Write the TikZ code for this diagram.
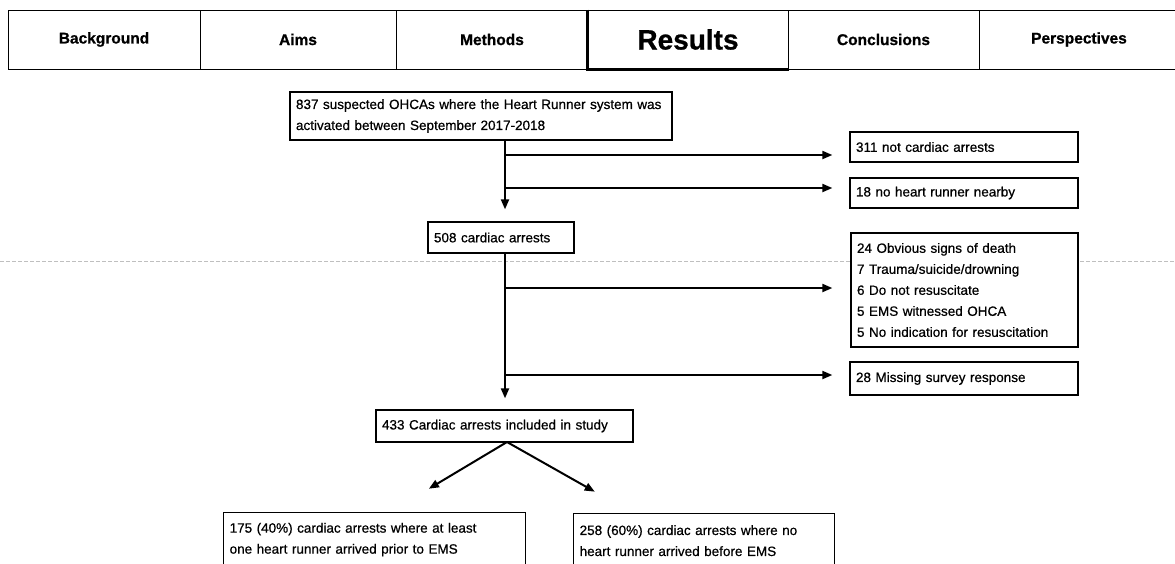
\documentclass[tikz,border=0pt]{standalone}
\usepackage{fontspec}
\setmainfont{Liberation Sans}
\newfontfamily\scanfont[FakeBold=0.6]{Liberation Sans}
\newfontfamily\scanbold[FakeBold=0.8]{Liberation Sans Bold}
\usetikzlibrary{arrows.meta}
\begin{document}
\begin{tikzpicture}[x=1pt,y=-1pt,
  hdr/.style={draw=black,line width=1pt,fill=white,inner sep=0pt,font=\fontsize{15.5}{17}\scanbold},
  box/.style={draw=black,line width=1.3pt,fill=white,inner sep=0pt,align=left,font=\fontsize{13.5}{21}\scanfont},
  arr/.style={line width=2pt,-{Triangle[length=10pt,width=8pt]}}]
\useasboundingbox (0,0) rectangle (1175,563);
\fill[white] (0,0) rectangle (1175,563);
% faint fold line
\draw[gray!50,line width=0.8pt,dash pattern=on 4pt off 2pt] (0,261) -- (1175,261);
% header
\node[hdr,minimum width=192pt,minimum height=59pt] (bg) at (104,39.5) {Background};
\node[hdr,minimum width=196pt,minimum height=59pt] (aims) at (298,39.5) {Aims};
\node[hdr,minimum width=192pt,minimum height=59pt] (meth) at (492,39.5) {Methods};
\node[hdr,minimum width=200pt,minimum height=59pt,font=\fontsize{28}{30}\scanbold] (res) at (688,39.5) {Results};
\node[hdr,minimum width=191pt,minimum height=59pt] (conc) at (883.5,39.5) {Conclusions};
\node[hdr,minimum width=200pt,minimum height=59pt] (persp) at (1079,39.5) {Perspectives};
\draw[line width=3pt] (res.north west) -- (res.south west) -- (res.south east);
% flow boxes
\node[box,minimum width=382pt,minimum height=48pt,text width=370pt] (main) at (481,116) {837 suspected OHCAs where the Heart Runner system was\\activated between September 2017-2018};
\node[box,minimum width=228pt,minimum height=30pt,text width=216pt] (b311) at (964,147) {311 not cardiac arrests};
\node[box,minimum width=228pt,minimum height=30pt,text width=216pt] (b18) at (964,193) {18 no heart runner nearby};
\node[box,minimum width=146pt,minimum height=31pt,text width=134pt] (n508) at (501,237.5) {508 cardiac arrests};
\node[box,minimum width=227pt,minimum height=114pt,text width=215pt] (big) at (964.5,290) {24 Obvious signs of death\\7 Trauma/suicide/drowning\\6 Do not resuscitate\\5 EMS witnessed OHCA\\5 No indication for resuscitation};
\node[box,minimum width=228pt,minimum height=33pt,text width=216pt] (b28) at (964,378.5) {28 Missing survey response};
\node[box,minimum width=257pt,minimum height=32pt,text width=245pt] (n433) at (504.5,426) {433 Cardiac arrests included in study};
\node[box,minimum width=302pt,minimum height=54pt,text width=290pt,anchor=north west] (n175) at (223,512) {175 (40\%) cardiac arrests where at least\\one heart runner arrived prior to EMS};
\node[box,minimum width=261pt,minimum height=54pt,text width=249pt,anchor=north west] (n258) at (573,513) {258 (60\%) cardiac arrests where no\\heart runner arrived before EMS};
% trunk coordinates
\coordinate (t0) at (505,140);
\coordinate (t1) at (505,155);
\coordinate (t2) at (505,188);
\coordinate (t3) at (505,253);
\coordinate (t4) at (505,288);
\coordinate (t5) at (505,375);
\coordinate (apex) at (507,442);
% connectors
\draw[arr,shorten >=12pt] (t0) -- (t0 |- n508.north);
\draw[arr,shorten >=17pt] (t1) -- (t1 -| b311.west);
\draw[arr,shorten >=17pt] (t2) -- (t2 -| b18.west);
\draw[arr,shorten >=11pt] (t3) -- (t3 |- n433.north);
\draw[arr,shorten >=18pt] (t4) -- (t4 -| big.west);
\draw[arr,shorten >=17pt] (t5) -- (t5 -| b28.west);
\draw[arr,shorten >=22pt] (apex) -- (410,500) coordinate (c175);
\draw[arr,shorten >=21pt] (apex) -- (613,502) coordinate (c258);
\end{tikzpicture}
\end{document}
